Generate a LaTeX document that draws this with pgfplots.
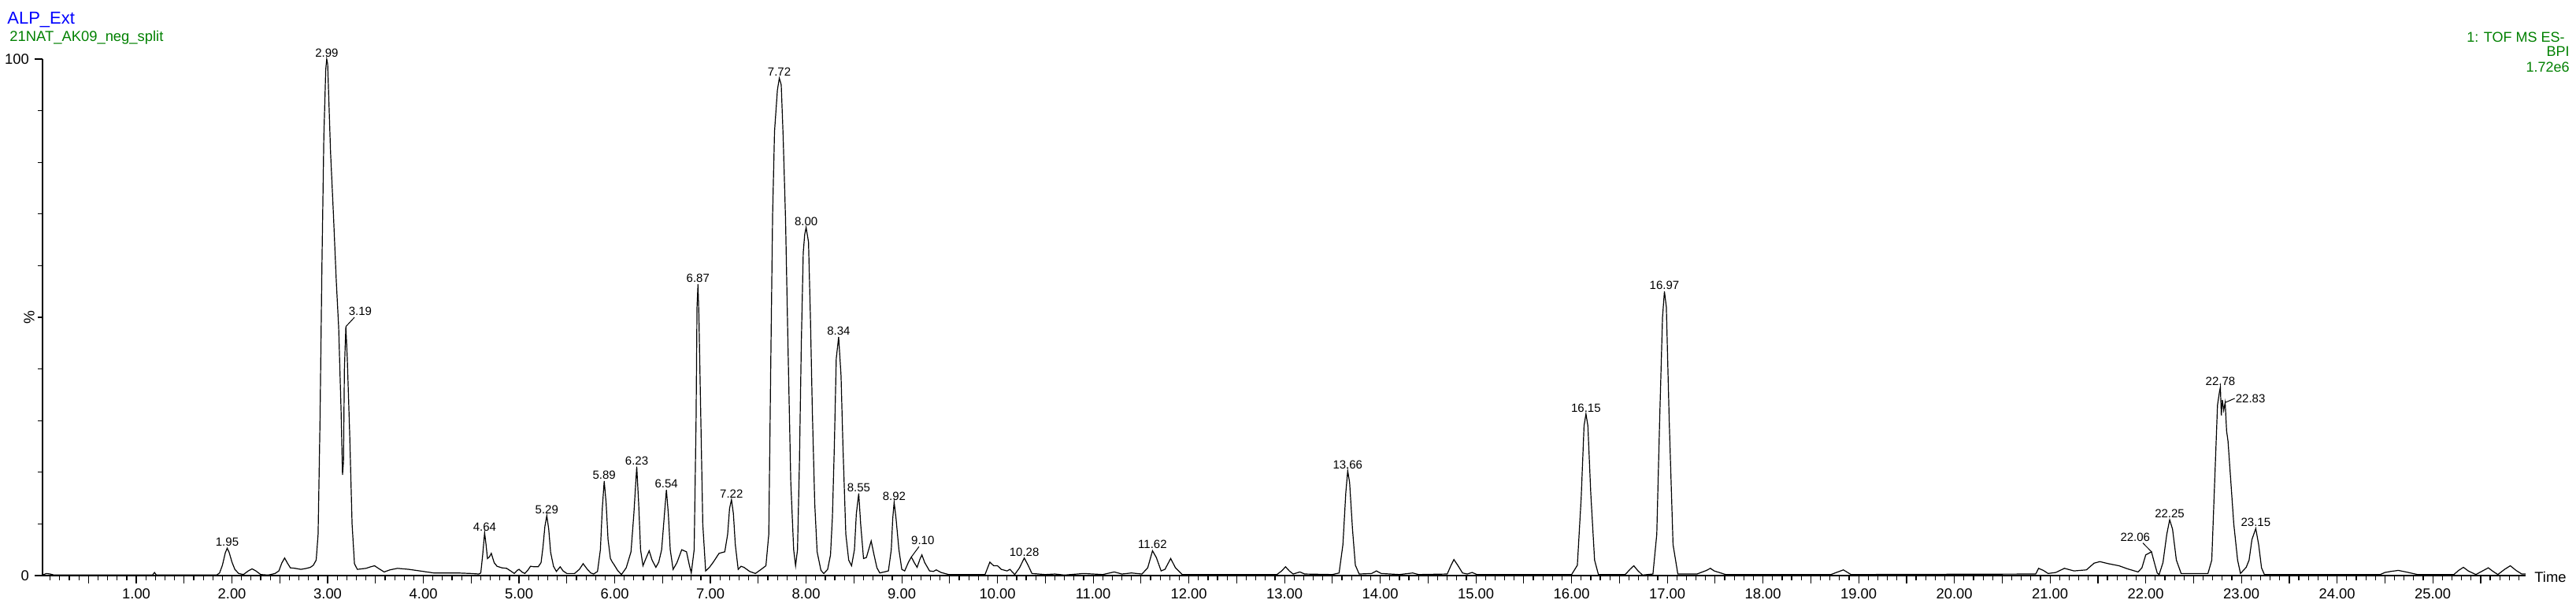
\documentclass[border=0pt]{standalone}
\usepackage{pgfplots}
\pgfplotsset{compat=1.18}
\usepackage{fontspec}
\setmainfont{Liberation Sans}
\definecolor{hdrblue}{RGB}{0,0,255}
\definecolor{hdrgreen}{RGB}{0,128,0}

\begin{document}
\begin{tikzpicture}[pk/.style={font=\fontsize{7.5}{8}\selectfont, inner sep=1pt, anchor=south}]
\begin{axis}[
  name=ax, scale only axis, width=1576.5pt, height=328pt,
  xmin=0.02, xmax=25.97, ymin=0, ymax=100,
  axis x line*=bottom, axis y line*=left,
  axis line style={-, line width=0.6pt},
  tick align=outside,
  xtick={1,...,25}, minor xtick={0.1,0.2,...,25.9},
  extra x ticks={0.5,1.5,...,25.5}, extra x tick labels={},
  ytick={0,100}, minor ytick={10,20,...,90},
  major tick length=5pt, minor tick length=3pt,
  tick style={black, line width=0.6pt},
  /pgf/number format/assume math mode=true,
  xticklabel={\pgfmathprintnumber[fixed,fixed zerofill,precision=2]{\tick}},
  tick label style={font=\fontsize{9.2}{10}\selectfont},
  clip=false,
]
\addplot[black, line width=0.6pt] coordinates {
(0.02,0.1) (0.06,0.4) (0.10,0.3) (0.14,0.1) (1.17,0.1) (1.19,0.6) (1.21,0.1) (1.84,0.1)
(1.87,0.5) (1.90,2.0) (1.93,4.4) (1.95,5.3) (1.97,4.5) (2.00,2.6) (2.03,1.2) (2.07,0.4)
(2.12,0.2) (2.17,0.9) (2.21,1.3) (2.25,0.9) (2.30,0.2) (2.38,0.1) (2.45,0.4) (2.49,0.9)
(2.52,2.4) (2.55,3.4) (2.58,2.4) (2.61,1.5) (2.66,1.4) (2.72,1.2) (2.78,1.4) (2.82,1.6)
(2.85,2.0) (2.88,3.0)
(2.90,8) (2.92,30) (2.94,60) (2.96,85) (2.98,98) (2.99,100) (3.00,99) (3.03,82)
(3.06,70) (3.09,57) (3.115,48) (3.14,32) (3.155,19.5) (3.165,22) (3.175,40) (3.19,48.2)
(3.205,42) (3.23,27.5) (3.255,10) (3.28,2.3) (3.31,1.2)
(3.40,1.4) (3.45,1.7) (3.49,1.9) (3.53,1.4) (3.59,0.7) (3.65,1.1) (3.73,1.4) (3.85,1.2)
(4.00,0.8) (4.11,0.5) (4.36,0.5) (4.50,0.4) (4.58,0.3)
(4.60,0.5) (4.62,4) (4.64,8.3) (4.655,6) (4.67,3.3) (4.69,3.6) (4.71,4.3) (4.74,2.5)
(4.77,1.8) (4.82,1.5) (4.87,1.4) (4.92,0.8) (4.95,0.4) (4.98,1.0) (5.00,1.2) (5.03,0.7)
(5.06,0.4) (5.09,1.0) (5.12,1.8) (5.16,1.7) (5.20,1.7) (5.23,2.5)
(5.25,5.5) (5.27,9.5) (5.29,11.6) (5.31,9) (5.33,4.5) (5.36,1.8) (5.39,0.8) (5.43,1.7)
(5.46,0.9) (5.50,0.4) (5.58,0.4) (5.63,1.2) (5.67,2.3) (5.71,1.3) (5.75,0.5) (5.78,0.3)
(5.82,0.8)
(5.85,5) (5.87,13) (5.89,18.3) (5.91,14) (5.93,7) (5.955,3.3) (5.975,2.6) (5.99,2.2)
(6.03,1.0) (6.07,0.2) (6.12,1.5) (6.17,4.6)
(6.20,12) (6.23,21.1) (6.25,14) (6.27,5) (6.295,1.9) (6.33,3.5) (6.36,4.8) (6.39,3)
(6.43,1.6) (6.46,2.6) (6.49,5)
(6.52,12) (6.54,16.6) (6.56,12) (6.58,5) (6.61,1.2) (6.65,2.5) (6.70,5.0) (6.75,4.6)
(6.78,2) (6.80,0.5)
(6.83,5) (6.85,30) (6.86,52) (6.87,56.4) (6.88,50) (6.90,30) (6.92,10) (6.95,0.9)
(6.99,1.6) (7.03,2.6) (7.09,4.3) (7.15,4.6) (7.18,8)
(7.20,13) (7.22,14.7) (7.24,12) (7.26,6) (7.29,1.2) (7.32,1.8) (7.35,1.6) (7.41,0.8)
(7.47,0.4) (7.53,1.2) (7.58,1.9) (7.61,8)
(7.63,40) (7.65,70) (7.67,86) (7.70,94) (7.72,96.3) (7.74,95) (7.76,85) (7.785,69)
(7.81,45) (7.84,18) (7.87,5) (7.89,1.9) (7.91,5)
(7.93,21.7) (7.95,45) (7.97,62.5) (7.985,66) (8.00,67.4) (8.025,64.6) (8.045,50) (8.065,31.9)
(8.09,14) (8.115,4.6) (8.155,1.0) (8.185,0.4) (8.225,1.2) (8.255,4)
(8.275,11.4) (8.295,25) (8.315,42) (8.34,46.2) (8.365,38.7) (8.385,25) (8.415,8) (8.445,3)
(8.475,1.9) (8.505,5)
(8.525,12) (8.55,15.9) (8.57,10) (8.60,3.3) (8.63,3.5) (8.68,6.7) (8.71,4) (8.74,1.5)
(8.77,0.5) (8.86,0.9) (8.89,5) (8.905,11)
(8.92,14.2) (8.94,11) (8.97,5) (9.00,1.2) (9.03,0.9) (9.07,2.6) (9.10,3.6) (9.13,2.5)
(9.16,1.6) (9.19,3.2) (9.21,4.0) (9.24,2.5) (9.29,0.9) (9.33,0.8) (9.36,1.1) (9.41,0.6)
(9.49,0.2) (9.87,0.2) (9.92,2.6) (9.96,1.9) (10.00,1.9) (10.04,1.2) (10.10,0.9) (10.13,1.2)
(10.18,0.2) (10.23,1.5) (10.28,3.4) (10.32,2.0) (10.36,0.4) (10.50,0.2) (10.60,0.3) (10.70,0.1)
(10.90,0.4) (11.00,0.3) (11.10,0.2) (11.22,0.7) (11.30,0.3) (11.40,0.5) (11.51,0.3)
(11.57,1.5) (11.62,4.8) (11.66,3.5) (11.71,0.9) (11.75,1.2) (11.81,3.3) (11.86,1.5) (11.93,0.2)
(12.50,0.2) (12.92,0.2) (12.97,0.9) (13.01,1.7) (13.05,0.9) (13.09,0.3) (13.16,0.7) (13.21,0.3)
(13.50,0.2) (13.57,0.5) (13.61,6) (13.64,16) (13.66,20.3) (13.68,18) (13.71,9) (13.74,2)
(13.78,0.3) (13.91,0.4) (13.96,0.9) (14.01,0.4) (14.20,0.2) (14.34,0.5) (14.40,0.2) (14.70,0.3)
(14.74,2) (14.77,3.1) (14.81,2) (14.86,0.5) (14.91,0.3) (14.96,0.6) (15.01,0.2) (16.00,0.2)
(16.06,2) (16.10,15) (16.13,29) (16.15,31.3) (16.17,29) (16.20,16) (16.24,3) (16.28,0.2)
(16.56,0.2) (16.61,1.2) (16.65,1.9) (16.69,1) (16.74,0.1)
(16.85,0.3) (16.89,8) (16.92,30) (16.95,50) (16.97,55) (16.99,52) (17.02,30) (17.06,6)
(17.11,0.3) (17.31,0.3) (17.41,1.0) (17.45,1.4) (17.49,0.9) (17.61,0.2) (18.71,0.2) (18.84,1.1)
(18.92,0.2) (20.85,0.3) (20.88,1.4) (20.93,1.0) (20.98,0.4) (21.06,0.6) (21.15,1.4) (21.25,0.9)
(21.38,1.1) (21.46,2.4) (21.52,2.7) (21.61,2.3) (21.72,1.9) (21.81,1.3) (21.92,0.7) (21.96,1.5)
(22.00,4) (22.06,4.6) (22.09,2.5) (22.12,0.5) (22.14,0.2)
(22.18,2.5) (22.22,8) (22.25,10.8) (22.28,9) (22.32,3) (22.37,0.4) (22.65,0.4) (22.69,3)
(22.72,18) (22.75,33) (22.77,35.5) (22.78,36.5) (22.79,31) (22.80,34) (22.815,32)
(22.83,33.5) (22.845,28) (22.86,26) (22.89,18) (22.92,10) (22.96,3) (22.99,0.4) (23.05,1.6)
(23.08,3) (23.11,7) (23.15,9.1) (23.18,6) (23.21,1.5) (23.24,0.2) (24.45,0.2) (24.50,0.6)
(24.56,0.8) (24.64,1.0) (24.72,0.7) (24.84,0.2) (25.22,0.2) (25.27,1.0) (25.32,1.6) (25.37,0.9)
(25.45,0.2) (25.52,0.9) (25.58,1.5) (25.63,0.8) (25.68,0.2) (25.75,1.2) (25.81,1.9) (25.87,1.0)
(25.93,0.3) (25.97,0.3)
};
% peak labels
\node[pk] at (axis cs:1.95,5.3) {1.95};
\node[pk] at (axis cs:2.99,100) {2.99};
\draw[black, line width=0.5pt] (axis cs:3.19,48.2) -- (axis cs:3.28,50.0);
\node[pk, anchor=south west] at (axis cs:3.20,50.0) {3.19};
\node[pk] at (axis cs:4.64,8.3) {4.64};
\node[pk] at (axis cs:5.29,11.6) {5.29};
\node[pk] at (axis cs:5.89,18.3) {5.89};
\node[pk] at (axis cs:6.23,21.1) {6.23};
\node[pk] at (axis cs:6.54,16.6) {6.54};
\node[pk] at (axis cs:6.87,56.4) {6.87};
\node[pk] at (axis cs:7.22,14.7) {7.22};
\node[pk] at (axis cs:7.72,96.3) {7.72};
\node[pk] at (axis cs:8.00,67.4) {8.00};
\node[pk] at (axis cs:8.34,46.2) {8.34};
\node[pk] at (axis cs:8.55,15.9) {8.55};
\node[pk] at (axis cs:8.92,14.2) {8.92};
\draw[black, line width=0.5pt] (axis cs:9.10,3.6) -- (axis cs:9.18,5.6);
\node[pk] at (axis cs:9.22,5.6) {9.10};
\node[pk] at (axis cs:10.28,3.4) {10.28};
\node[pk] at (axis cs:11.62,4.8) {11.62};
\node[pk] at (axis cs:13.66,20.3) {13.66};
\node[pk] at (axis cs:16.15,31.3) {16.15};
\node[pk] at (axis cs:16.97,55) {16.97};
\draw[black, line width=0.5pt] (axis cs:22.06,4.6) -- (axis cs:21.97,6.3);
\node[pk] at (axis cs:21.89,6.3) {22.06};
\node[pk] at (axis cs:22.25,10.8) {22.25};
\node[pk] at (axis cs:22.78,36.5) {22.78};
\draw[black, line width=0.5pt] (axis cs:22.83,33.5) -- (axis cs:22.93,34.3);
\node[pk, anchor=west] at (axis cs:22.92,34.3) {22.83};
\node[pk] at (axis cs:23.15,9.1) {23.15};
% axis label and headers
\node[rotate=90, inner sep=0pt, font=\fontsize{9.5}{10}\selectfont]
  at ([xshift=-8.5pt]rel axis cs:0,0.5) {\%};
\node[anchor=base west, inner sep=0pt, text=hdrblue, font=\fontsize{11}{12}\selectfont]
  at ([shift={(-22.5pt,22pt)}]rel axis cs:0,1) {ALP\_Ext};
\node[anchor=base west, inner sep=0pt, text=hdrgreen, font=\fontsize{9.2}{10}\selectfont]
  at ([shift={(-21pt,11pt)}]rel axis cs:0,1) {21NAT\_AK09\_neg\_split};
\node[anchor=base east, inner sep=0pt, text=hdrgreen, font=\fontsize{9}{10}\selectfont]
  at ([shift={(25pt,10.5pt)}]rel axis cs:1,1) {1: TOF MS ES-};
\node[anchor=base east, inner sep=0pt, text=hdrgreen, font=\fontsize{9}{10}\selectfont]
  at ([shift={(28pt,1.5pt)}]rel axis cs:1,1) {BPI};
\node[anchor=base east, inner sep=0pt, text=hdrgreen, font=\fontsize{9}{10}\selectfont]
  at ([shift={(28pt,-8.5pt)}]rel axis cs:1,1) {1.72e6};
\node[anchor=west, inner sep=0pt, font=\fontsize{9.2}{10}\selectfont]
  at ([shift={(5.5pt,-1pt)}]axis cs:25.97,0) {Time};
\end{axis}
\pgfresetboundingbox
\path ([shift={(-27pt,-22.5pt)}]ax.south west) rectangle ([shift={(1608.5pt,365.5pt)}]ax.south west);
\end{tikzpicture}
\end{document}
